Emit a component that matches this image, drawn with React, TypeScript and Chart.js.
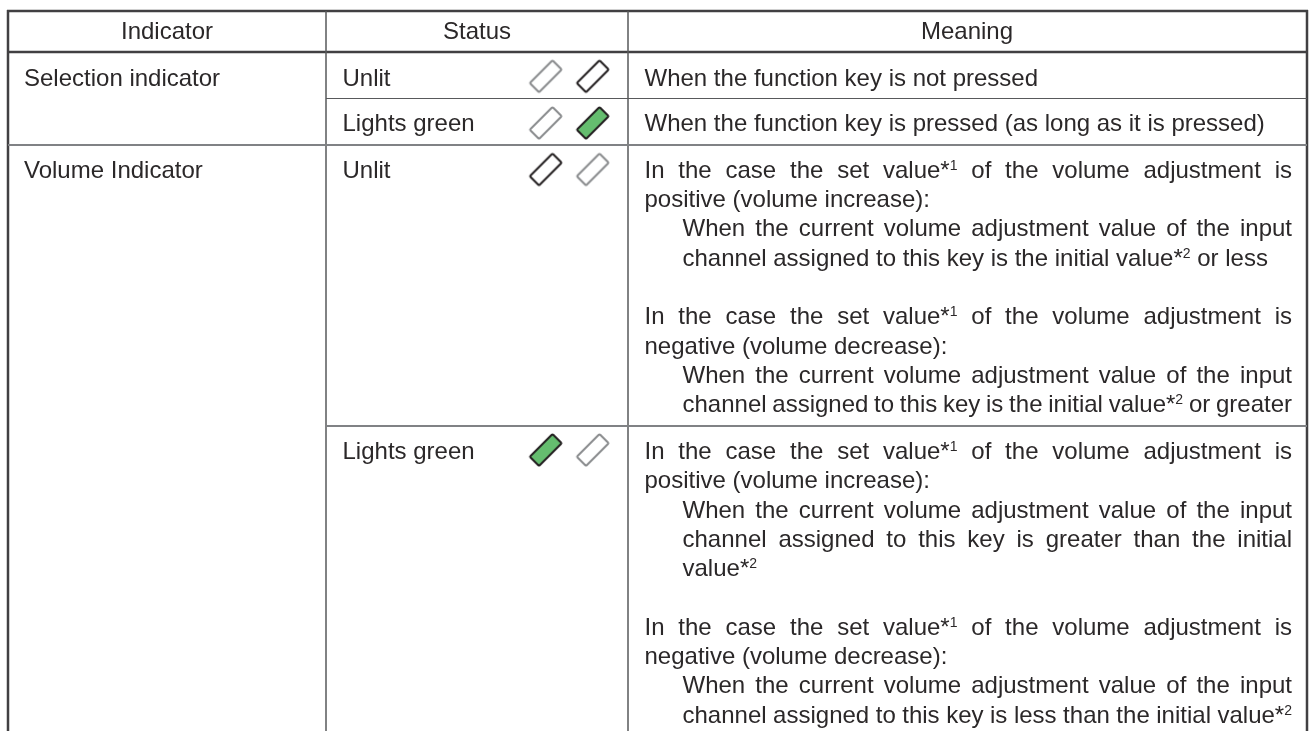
import React, { useEffect, useRef } from "react";
import { Chart, registerables } from "chart.js";

Chart.register(...registerables);

const WIDTH = 1310;
const HEIGHT = 731;
const INK = "#2b2829";
const FONT_SIZE = 24;
const SUP_SIZE = 14;
const FONT = '"Liberation Sans"';

const heavyRules: number[][] = [[7, 11, 1308, 11], [7, 52, 1308, 52]];
const midRules: number[][] = [[8, 145, 1307, 145], [326, 426, 1307, 426]];
const thinRules: number[][] = [[326, 98.5, 1307, 98.5]];
const outerEdges: number[][] = [[8, 10, 8, 731], [1307, 10, 1307, 731]];
const innerColumns: number[][] = [[326, 11, 326, 731], [628, 11, 628, 731]];

const headers = ["Indicator", "Status", "Meaning"];
const headerCentres = [167, 477, 967];
const HEADER_Y = 31;

const leftLabels = ["Selection indicator", "Volume Indicator"];
const leftLabelY = [77.5, 170];
const statusLabels = ["Unlit", "Lights green", "Unlit", "Lights green"];
const statusLabelY = [77.5, 123, 170, 451];

const grayMarks = [{ x: 545.7, y: 76.3 }, { x: 545.7, y: 123 }, { x: 592.7, y: 169.5 }, { x: 592.7, y: 450 }];
const blackMarks = [{ x: 592.7, y: 76.3 }, { x: 545.7, y: 169.5 }];
const greenMarks = [{ x: 592.7, y: 123 }, { x: 545.7, y: 450 }];

const meaningLines: [string, number, number, number][] = [
  ["When the function key is not pressed", 0, 0, 77.5],
  ["When the function key is pressed (as long as it is pressed)", 0, 0, 123],
  ["In the case the set value*^1 of the volume adjustment is", 0, 1, 170],
  ["positive (volume increase):", 0, 0, 199],
  ["When the current volume adjustment value of the input", 1, 1, 228],
  ["channel assigned to this key is the initial value*^2 or less", 1, 0, 258],
  ["In the case the set value*^1 of the volume adjustment is", 0, 1, 316],
  ["negative (volume decrease):", 0, 0, 346],
  ["When the current volume adjustment value of the input", 1, 1, 375],
  ["channel assigned to this key is the initial value*^2 or greater", 1, 1, 404],
  ["In the case the set value*^1 of the volume adjustment is", 0, 1, 451],
  ["positive (volume increase):", 0, 0, 480],
  ["When the current volume adjustment value of the input", 1, 1, 510],
  ["channel assigned to this key is greater than the initial", 1, 1, 539],
  ["value*^2", 1, 0, 568],
  ["In the case the set value*^1 of the volume adjustment is", 0, 1, 627],
  ["negative (volume decrease):", 0, 0, 656],
  ["When the current volume adjustment value of the input", 1, 1, 685],
  ["channel assigned to this key is less than the initial value*^2", 1, 1, 715],
];

const LEFT_X = 24;
const STATUS_X = 342.5;
const MEANING_X = 644.5;
const INDENT_X = 682.5;
const RIGHT_X = 1292;

function markStyle(stroke: string, fill: string): HTMLCanvasElement {
  const c = document.createElement("canvas");
  c.width = 50;
  c.height = 50;
  const g = c.getContext("2d")!;
  g.translate(25, 25);
  g.rotate((-45 * Math.PI) / 180);
  g.beginPath();
  g.roundRect(-16, -6.5, 32, 13, 1);
  if (fill !== "none") {
    g.fillStyle = fill;
    g.fill();
  }
  g.strokeStyle = stroke;
  g.lineWidth = 2;
  g.stroke();
  return c;
}

function ruleData(rules: number[][]) {
  const pts: ({ x: number; y: number } | { x: number; y: null })[] = [];
  rules.forEach((r) => {
    pts.push({ x: r[0], y: r[1] }, { x: r[2], y: r[3] }, { x: r[2], y: null });
  });
  return pts;
}

function runsOf(word: string) {
  const i = word.indexOf("^");
  if (i < 0) return [{ t: word, sup: false }];
  return [
    { t: word.slice(0, i), sup: false },
    { t: word.slice(i + 1, i + 2), sup: true },
    { t: word.slice(i + 2), sup: false },
  ];
}

function wordWidth(g: CanvasRenderingContext2D, word: string) {
  let w = 0;
  runsOf(word).forEach((r) => {
    g.font = `${r.sup ? SUP_SIZE : FONT_SIZE}px ${FONT}`;
    w += g.measureText(r.t).width;
  });
  return w;
}

function drawLine(g: CanvasRenderingContext2D, text: string, x: number, y: number, right: number | null) {
  const words = text.split(" ");
  g.font = `${FONT_SIZE}px ${FONT}`;
  const space = g.measureText(" ").width;
  const widths = words.map((w) => wordWidth(g, w));
  const total = widths.reduce((a, b) => a + b, 0);
  const gap = right === null ? space : (right - x - total) / (words.length - 1);
  let cx = x;
  words.forEach((w, i) => {
    let rx = cx;
    runsOf(w).forEach((r) => {
      g.font = `${r.sup ? SUP_SIZE : FONT_SIZE}px ${FONT}`;
      g.fillText(r.t, rx, r.sup ? y - 8 : y);
      rx += g.measureText(r.t).width;
    });
    cx += widths[i] + gap;
  });
}

const tableText = {
  id: "tableText",
  afterDatasetsDraw(chart: any) {
    const { ctx: g, scales } = chart;
    const X = scales.x;
    const Y = scales.y;
    g.save();
    g.fillStyle = INK;
    g.textBaseline = "alphabetic";
    const drop = 8;
    g.textAlign = "center";
    g.font = `${FONT_SIZE}px ${FONT}`;
    headers.forEach((h, i) => g.fillText(h, X.getPixelForValue(headerCentres[i]), Y.getPixelForValue(HEADER_Y) + drop));
    g.textAlign = "left";
    leftLabels.forEach((t, i) => g.fillText(t, X.getPixelForValue(LEFT_X), Y.getPixelForValue(leftLabelY[i]) + drop));
    statusLabels.forEach((t, i) => g.fillText(t, X.getPixelForValue(STATUS_X), Y.getPixelForValue(statusLabelY[i]) + drop));
    meaningLines.forEach(([t, indent, just, y]) => {
      const x0 = X.getPixelForValue(indent ? INDENT_X : MEANING_X);
      drawLine(g, t, x0, Y.getPixelForValue(y) + drop, just ? X.getPixelForValue(RIGHT_X) : null);
    });
    g.restore();
  },
};

export default function App() {
  const ref = useRef<HTMLCanvasElement>(null);
  useEffect(() => {
    document.body.style.margin = "0";
    const ruleSet = (label: string, rules: number[][], color: string, width: number) => ({
      label,
      data: ruleData(rules),
      showLine: true,
      spanGaps: false,
      borderColor: color,
      borderWidth: width,
      pointRadius: 0,
    });
    const markSet = (label: string, data: { x: number; y: number }[], style: HTMLCanvasElement) => ({
      label,
      data,
      pointStyle: style,
      pointRadius: 25,
      showLine: false,
    });
    const chart = new Chart(ref.current!, {
      type: "scatter",
      data: {
        datasets: [
          ruleSet("thin rules", thinRules, "#58595b", 1.2),
          ruleSet("mid rules", midRules, "#808285", 2),
          ruleSet("columns", innerColumns, "#58595b", 1.5),
          ruleSet("outer edges", outerEdges, "#414042", 2.5),
          ruleSet("heavy rules", heavyRules, "#414042", 2.5),
          markSet("unlit faint", grayMarks, markStyle("#8a8c8e", "none")),
          markSet("unlit dark", blackMarks, markStyle("#231f20", "none")),
          markSet("green", greenMarks, markStyle("#231f20", "#65bd6f")),
        ] as any,
      },
      options: {
        animation: false,
        responsive: false,
        layout: { padding: 0, autoPadding: false },
        plugins: { legend: { display: false }, tooltip: { enabled: false } },
        scales: {
          x: { type: "linear", min: 0, max: WIDTH, display: false },
          y: { type: "linear", min: 0, max: HEIGHT, reverse: true, display: false },
        },
      },
      plugins: [tableText],
    });
    return () => chart.destroy();
  }, []);
  return <canvas ref={ref} width={WIDTH} height={HEIGHT} style={{ display: "block" }} />;
}
